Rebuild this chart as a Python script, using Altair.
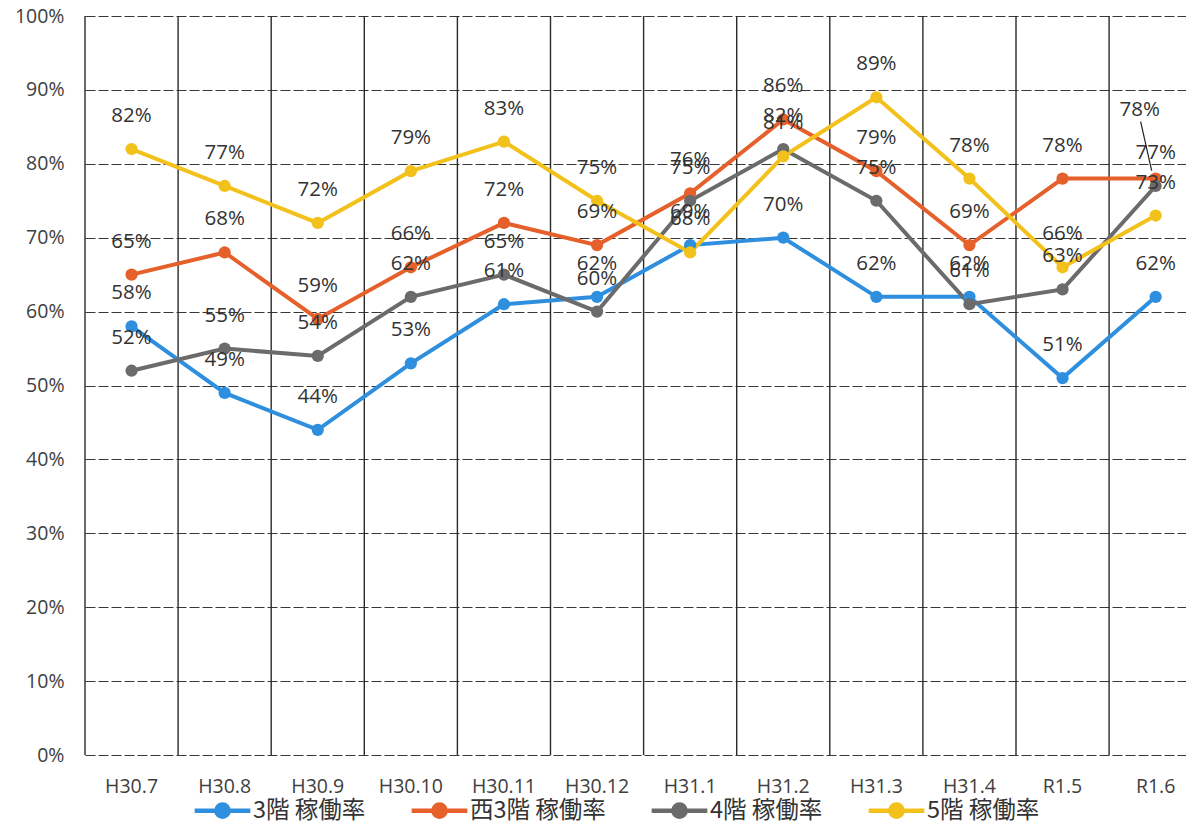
import altair as alt
import pandas as pd

cats = ["H30.7", "H30.8", "H30.9", "H30.10", "H30.11", "H30.12",
        "H31.1", "H31.2", "H31.3", "H31.4", "R1.5", "R1.6"]
series = ["3階 稼働率", "西3階 稼働率", "4階 稼働率", "5階 稼働率"]
colors = ["#2E8FDF", "#E5602B", "#6B6B6B", "#F3C11B"]

v_3f = [58, 49, 44, 53, 61, 62, 69, 70, 62, 62, 51, 62]
v_w3f = [65, 68, 59, 66, 72, 69, 76, 86, 79, 69, 78, 78]
v_4f = [52, 55, 54, 62, 65, 60, 75, 82, 75, 61, 63, 77]
v_5f = [82, 77, 72, 79, 83, 75, 68, 81, 89, 78, 66, 73]
y_ticks = [0, 10, 20, 30, 40, 50, 60, 70, 80, 90, 100]

rows = []
for s, vals in zip(series, [v_3f, v_w3f, v_4f, v_5f]):
    for c, v in zip(cats, vals):
        rows.append({"cat": c, "series": s, "value": v})
df = pd.DataFrame(rows)
cat_df = pd.DataFrame({"cat": cats})

W = 1101
H = 739
BAND = 93.1
FONT = "Open Sans"
TXT = "#333333"

xscale = alt.Scale(domain=cats, range=[0, BAND * len(cats)], paddingInner=0, paddingOuter=0)
yscale = alt.Scale(domain=[0, 100], nice=False)

x_axis = alt.Axis(title=None, labelAngle=0, labelFontSize=19.5, labelFont=FONT,
                  labelColor="#404040", labelPadding=22, ticks=False, domain=False, grid=False)
y_axis = alt.Axis(title=None, values=y_ticks, labelExpr="datum.value + '%'",
                  labelFontSize=19.5, labelFont=FONT, labelColor="#404040", labelPadding=21,
                  ticks=False, domain=False, grid=True, gridColor="#383838",
                  gridDash=[10, 3], gridWidth=1.2)

X = alt.X("cat:N", scale=xscale, axis=x_axis)
Y = alt.Y("value:Q", scale=yscale, axis=y_axis)

color_scale = alt.Scale(domain=series, range=colors)

legend_path = ("M-1,0L-0.22,0M0.22,0L1,0"
               "M0.22,0A0.22,0.22,0,1,1,-0.22,0A0.22,0.22,0,1,1,0.22,0Z")

legend = alt.Legend(
    title=None, orient="none", direction="horizontal",
    legendX=107, legendY=764,
    symbolType=legend_path, symbolSize=3100, symbolStrokeWidth=4.5,
    labelFont="Noto Sans CJK JP", labelFontSize=23.5, labelColor=TXT,
    labelOffset=0, columnPadding=36, padding=0, symbolOpacity=1,
)

vgrid = alt.Chart(cat_df).mark_rule(color="#2a2a2a", strokeWidth=1.4).encode(
    x=alt.X("cat:N", scale=xscale, axis=x_axis, bandPosition=0),
    y=alt.value(0), y2=alt.value(H),
)

lines = alt.Chart(df).mark_line(strokeWidth=4).encode(
    x=X, y=Y,
    color=alt.Color("series:N", scale=color_scale, legend=legend),
)

points = alt.Chart(df).mark_point(filled=True, size=150, opacity=1).encode(
    x=X, y=Y,
    color=alt.Color("series:N", scale=color_scale, legend=legend),
)

special = "datum.series == '西3階 稼働率' && datum.cat == 'R1.6'"

labels = alt.Chart(df).transform_filter(f"!({special})").transform_calculate(
    label="datum.value + '%'"
).mark_text(dy=-33, fontSize=20.5, font=FONT, color=TXT, baseline="middle").encode(
    x=X, y=Y, text="label:N"
)

label_special = alt.Chart(df).transform_filter(special).transform_calculate(
    label="datum.value + '%'"
).mark_text(dy=-69, dx=-16, fontSize=20.5, font=FONT, color=TXT, baseline="middle").encode(
    x=X, y=Y, text="label:N"
)

leader = alt.Chart(df).transform_filter(special).mark_rule(
    color="#222222", strokeWidth=1.2,
    xOffset=-15, yOffset=-57, x2Offset=-4, y2Offset=-8,
).encode(x=X, y=Y, x2="cat:N", y2="value:Q")

chart = alt.layer(vgrid, lines, points, labels, label_special, leader).properties(
    width=W, height=H,
    autosize=alt.AutoSizeParams(type="none"),
    padding={"left": 77, "top": 8, "right": 0, "bottom": 71},
    background="white",
).configure_view(stroke=None)

chart.save("out.html", embed_options={"renderer": "svg", "actions": False})
